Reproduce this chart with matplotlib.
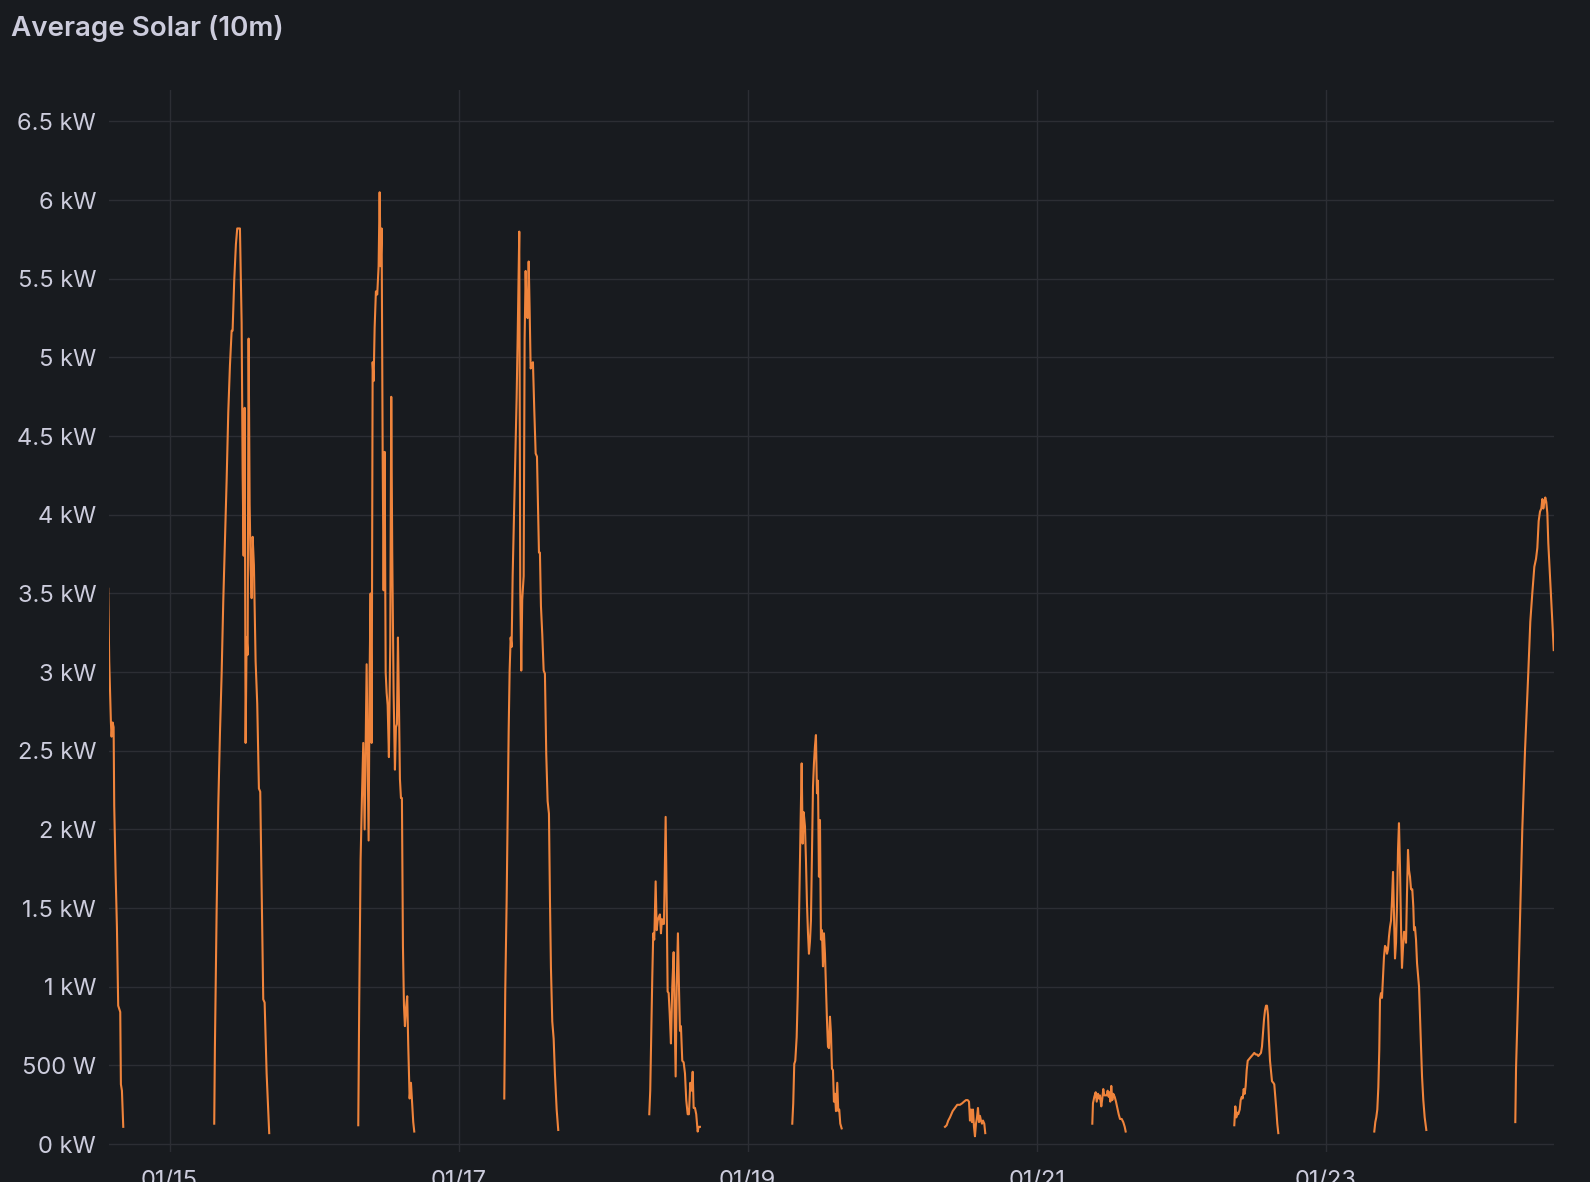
import numpy as np
import pandas as pd
import matplotlib
matplotlib.use("Agg")
from matplotlib import pyplot as plt

# Average solar power, 10 minute buckets, one segment per day (hour of day, kW)
jan14_h = [13.80, 13.97, 14.25, 14.36, 14.53, 14.70, 14.80, 15.03, 15.25, 15.46, 15.63, 15.80, 15.91, 16.08, 16.30]
jan14_kw = [3.53, 3.07, 2.68, 2.59, 2.68, 2.65, 2.15, 1.72, 1.38, 0.88, 0.86, 0.84, 0.38, 0.34, 0.11]

jan15_h = [7.41, 7.52, 7.81, 8.08, 8.36, 8.64, 8.91, 9.19, 9.47, 9.74, 10.02, 10.30, 10.46, 10.73, 11.01,
           11.23, 11.68, 11.96, 12.13, 12.29, 12.46, 12.62, 12.79, 12.96, 13.12, 13.29, 13.45, 13.62, 13.79,
           14.00, 14.28, 14.55, 14.83, 15.05, 15.28, 15.55, 15.78, 16.11, 16.54]
jan15_kw = [0.13, 0.61, 1.49, 2.15, 2.61, 2.99, 3.45, 3.84, 4.22, 4.65, 4.95, 5.17, 5.17, 5.49, 5.72,
            5.82, 5.82, 5.22, 4.26, 3.74, 4.68, 2.55, 3.22, 3.11, 5.12, 4.07, 3.68, 3.47, 3.86,
            3.68, 3.07, 2.80, 2.26, 2.24, 1.65, 0.92, 0.90, 0.45, 0.07]

jan16_h = [7.33, 7.49, 7.72, 7.94, 8.16, 8.39, 8.55, 8.72, 8.89, 9.05, 9.22, 9.38, 9.55, 9.72, 9.88,
           10.05, 10.26, 10.48, 10.71, 10.88, 11.05, 11.21, 11.38, 11.54, 11.71, 11.88, 12.04, 12.21,
           12.42, 12.64, 12.81, 12.97, 13.20, 13.42, 13.59, 13.75, 13.92, 14.09, 14.25, 14.42, 14.58,
           14.75, 14.92, 15.08, 15.25, 15.46, 15.63, 15.86, 16.08, 16.24, 16.46, 16.63]
jan16_kw = [0.12, 0.90, 1.81, 2.20, 2.55, 2.00, 2.51, 3.05, 2.48, 1.93, 3.00, 3.50, 2.55, 4.97, 4.85,
            5.19, 5.42, 5.40, 5.58, 6.05, 5.58, 5.82, 4.40, 3.52, 4.40, 3.00, 2.87, 2.79,
            2.46, 3.18, 4.75, 3.77, 2.87, 2.38, 2.65, 2.67, 3.22, 2.79, 2.32, 2.20, 2.20,
            1.26, 0.88, 0.75, 0.86, 0.94, 0.63, 0.29, 0.39, 0.28, 0.14, 0.08]

jan17_h = [7.58, 7.74, 7.97, 8.14, 8.31, 8.47, 8.64, 8.80, 8.97, 9.19, 9.40, 9.63, 9.80, 10.07, 10.23,
           10.40, 10.56, 10.80, 10.96, 11.13, 11.29, 11.46, 11.63, 11.79, 11.96, 12.12, 12.34, 12.56,
           12.79, 13.01, 13.17, 13.34, 13.50, 13.67, 13.89, 14.12, 14.33, 14.55, 14.78, 15.00, 15.17,
           15.33, 15.55, 15.78, 16.00, 16.28, 16.54]
jan17_kw = [0.29, 0.97, 1.54, 2.10, 2.63, 3.01, 3.22, 3.16, 3.61, 3.99, 4.37, 4.74, 5.12, 5.80, 3.54,
            3.01, 3.46, 3.61, 5.12, 5.55, 5.27, 5.25, 5.61, 5.31, 4.93, 4.95, 4.97, 4.67,
            4.39, 4.37, 4.06, 3.76, 3.76, 3.42, 3.24, 3.01, 2.99, 2.48, 2.18, 2.10, 1.54,
            1.12, 0.78, 0.67, 0.44, 0.22, 0.09]

jan18_h = [7.66, 7.82, 7.99, 8.16, 8.32, 8.49, 8.72, 8.89, 9.05, 9.22, 9.43, 9.60, 9.77, 9.93, 10.10,
           10.38, 10.55, 10.71, 10.88, 11.05, 11.26, 11.48, 11.71, 11.88, 12.04, 12.21, 12.42, 12.59,
           12.76, 12.92, 13.14, 13.37, 13.59, 13.80, 14.04, 14.25, 14.47, 14.70, 14.87, 15.03, 15.25,
           15.46, 15.70, 15.86, 16.08]
jan18_kw = [0.19, 0.34, 0.70, 1.06, 1.34, 1.30, 1.67, 1.36, 1.42, 1.44, 1.46, 1.34, 1.43, 1.40, 1.40,
            2.08, 1.55, 0.97, 0.96, 0.83, 0.64, 1.00, 1.22, 0.83, 0.43, 1.00, 1.34, 1.00,
            0.72, 0.75, 0.53, 0.52, 0.45, 0.28, 0.19, 0.19, 0.39, 0.34, 0.46, 0.23, 0.23,
            0.19, 0.08, 0.11, 0.11]

jan19_h = [7.41, 7.57, 7.74, 7.91, 8.14, 8.31, 8.47, 8.64, 8.80, 8.97, 9.14, 9.30, 9.52, 9.68, 9.85,
           10.02, 10.18, 10.35, 10.51, 10.68, 10.85, 11.01, 11.18, 11.34, 11.51, 11.68, 11.84, 12.01,
           12.17, 12.34, 12.51, 12.67, 12.84, 13.01, 13.17, 13.34, 13.50, 13.67, 13.84, 14.00, 14.17,
           14.33, 14.50, 14.67, 14.88, 15.05, 15.21, 15.38, 15.61]
jan19_kw = [0.13, 0.26, 0.51, 0.53, 0.68, 0.94, 1.32, 1.74, 2.06, 2.42, 1.91, 2.11, 2.02, 1.81, 1.53,
            1.34, 1.21, 1.29, 1.42, 1.85, 2.27, 2.42, 2.53, 2.60, 2.23, 2.31, 1.70, 2.06,
            1.30, 1.36, 1.13, 1.34, 1.21, 1.00, 0.79, 0.62, 0.61, 0.81, 0.70, 0.48, 0.47,
            0.27, 0.32, 0.21, 0.39, 0.21, 0.22, 0.13, 0.10]

jan20_h = [8.77, 9.05, 9.32, 9.60, 10.05, 10.43, 10.81, 11.26, 11.64, 11.93, 12.26, 12.54, 12.76, 12.92,
           13.09, 13.25, 13.42, 13.59, 13.75, 13.92, 14.09, 14.25, 14.42, 14.58, 14.75, 14.92, 15.08,
           15.30, 15.46]
jan20_kw = [0.11, 0.12, 0.15, 0.17, 0.21, 0.23, 0.25, 0.25, 0.26, 0.27, 0.28, 0.28, 0.27, 0.15,
            0.22, 0.14, 0.22, 0.11, 0.05, 0.13, 0.17, 0.23, 0.14, 0.18, 0.15, 0.13, 0.15,
            0.13, 0.07]

jan21_h = [9.24, 9.35, 9.57, 9.80, 9.97, 10.18, 10.35, 10.51, 10.73, 10.90, 11.06, 11.23, 11.39, 11.63,
           11.79, 11.96, 12.13, 12.23, 12.39, 12.56, 12.72, 12.96, 13.17, 13.39, 13.62, 13.84, 14.12,
           14.38, 14.62, 14.78]
jan21_kw = [0.13, 0.26, 0.30, 0.33, 0.27, 0.32, 0.29, 0.31, 0.24, 0.29, 0.35, 0.31, 0.31, 0.31,
            0.34, 0.30, 0.33, 0.27, 0.37, 0.28, 0.32, 0.30, 0.27, 0.23, 0.19, 0.16, 0.16,
            0.14, 0.11, 0.08]

jan22_h = [8.82, 8.99, 9.15, 9.32, 9.48, 9.72, 9.88, 10.05, 10.21, 10.38, 10.55, 10.71, 10.88, 11.05,
           11.26, 11.48, 11.71, 11.93, 12.14, 12.37, 12.59, 12.81, 13.04, 13.25, 13.42, 13.59, 13.75,
           13.92, 14.09, 14.25, 14.42, 14.58, 14.75, 14.92, 15.08, 15.30, 15.46, 15.63, 15.80, 15.96,
           16.13]
jan22_kw = [0.12, 0.24, 0.17, 0.20, 0.19, 0.22, 0.28, 0.30, 0.29, 0.35, 0.32, 0.37, 0.47, 0.53,
            0.54, 0.55, 0.56, 0.57, 0.58, 0.57, 0.57, 0.56, 0.57, 0.58, 0.62, 0.71, 0.79,
            0.85, 0.88, 0.88, 0.82, 0.66, 0.53, 0.46, 0.40, 0.39, 0.38, 0.30, 0.22, 0.13,
            0.07]

jan23_h = [8.07, 8.24, 8.40, 8.57, 8.74, 8.90, 9.02, 9.19, 9.35, 9.52, 9.68, 9.85, 10.02, 10.18, 10.35,
           10.51, 10.68, 10.85, 11.01, 11.18, 11.34, 11.51, 11.68, 11.84, 12.01, 12.17, 12.34, 12.51,
           12.67, 12.84, 13.01, 13.17, 13.34, 13.50, 13.67, 13.84, 14.00, 14.17, 14.38, 14.55, 14.67,
           14.83, 15.00, 15.17, 15.33, 15.50, 15.66, 15.83, 16.00, 16.21, 16.44, 16.71]
jan23_kw = [0.08, 0.14, 0.17, 0.22, 0.36, 0.60, 0.92, 0.96, 0.93, 1.06, 1.19, 1.26, 1.25, 1.21, 1.24,
            1.32, 1.38, 1.42, 1.55, 1.73, 1.47, 1.18, 1.28, 1.51, 1.87, 2.04, 1.76, 1.38,
            1.12, 1.25, 1.35, 1.34, 1.28, 1.59, 1.87, 1.74, 1.70, 1.62, 1.62, 1.51, 1.36,
            1.38, 1.30, 1.15, 1.08, 1.00, 0.81, 0.62, 0.43, 0.28, 0.17, 0.09]

jan24_h = [7.49, 7.61, 7.99, 8.32, 8.65, 9.10, 9.65, 9.98, 10.31, 10.65, 10.93, 11.15, 11.37, 11.59,
           11.81, 11.98, 12.14, 12.31, 12.47, 12.64, 12.81, 12.97, 13.20, 13.42, 13.64, 13.87]
jan24_kw = [0.14, 0.48, 1.00, 1.50, 2.00, 2.50, 3.00, 3.32, 3.50, 3.67, 3.72, 3.79, 3.96, 4.02,
            4.04, 4.10, 4.04, 4.08, 4.11, 4.08, 4.01, 3.82, 3.65, 3.49, 3.32, 3.14]

days = ["2024-01-14", "2024-01-15", "2024-01-16", "2024-01-17", "2024-01-18", "2024-01-19",
        "2024-01-20", "2024-01-21", "2024-01-22", "2024-01-23", "2024-01-24"]
day_hours = [jan14_h, jan15_h, jan16_h, jan17_h, jan18_h, jan19_h, jan20_h, jan21_h, jan22_h, jan23_h, jan24_h]
day_kw = [jan14_kw, jan15_kw, jan16_kw, jan17_kw, jan18_kw, jan19_kw, jan20_kw, jan21_kw, jan22_kw, jan23_kw, jan24_kw]

y_ticks = [0, 0.5, 1, 1.5, 2, 2.5, 3, 3.5, 4, 4.5, 5, 5.5, 6, 6.5]
y_labels = ["0 kW", "500 W", "1 kW", "1.5 kW", "2 kW", "2.5 kW", "3 kW", "3.5 kW", "4 kW",
            "4.5 kW", "5 kW", "5.5 kW", "6 kW", "6.5 kW"]
x_ticks = ["2024-01-15", "2024-01-17", "2024-01-19", "2024-01-21", "2024-01-23"]
x_labels = ["01/15", "01/17", "01/19", "01/21", "01/23"]

BG = "#181b1f"
TXT = "#ccccdc"
GRID = "#2c2e34"
LINE = "#EF843C"
FONT = ["Inter", "DejaVu Sans"]

# build one series, nights are gaps (NaN)
times, values = [], []
for d, hh, kw in zip(days, day_hours, day_kw):
    base = pd.Timestamp(d)
    for h, v in zip(hh, kw):
        times.append((base + pd.Timedelta(hours=h)).to_pydatetime())
        values.append(v)
    times.append((base + pd.Timedelta(hours=20)).to_pydatetime())
    values.append(np.nan)

fig = plt.figure(figsize=(15.9, 11.82), dpi=100, facecolor=BG)
ax = fig.add_axes([108.7 / 1590, 1 - 1152 / 1182, (1554 - 108.7) / 1590, (1152 - 90) / 1182])
ax.set_facecolor(BG)

ax.plot(times, values, color=LINE, lw=1.5, solid_joinstyle="round")

ax.set_xlim(pd.Timestamp("2024-01-14 13:53").to_pydatetime(), pd.Timestamp("2024-01-24 13:55").to_pydatetime())
ax.set_ylim(-0.05, 6.70)

ax.set_yticks(y_ticks)
ax.set_yticklabels(y_labels)
ax.set_xticks([pd.Timestamp(t).to_pydatetime() for t in x_ticks])
ax.set_xticklabels(x_labels)

for lab in ax.get_yticklabels() + ax.get_xticklabels():
    lab.set_family(FONT)
    lab.set_fontsize(17)
    lab.set_color(TXT)

ax.tick_params(axis="y", length=0, pad=9)
ax.tick_params(axis="x", length=0, pad=13)
ax.grid(True, color=GRID, lw=1)
ax.set_axisbelow(True)
for s in ax.spines.values():
    s.set_visible(False)

fig.text(11 / 1590, 1 - 36 / 1182, "Average Solar (10m)", family=FONT, fontsize=20,
         fontweight="semibold", color=TXT, va="baseline", ha="left")

fig.savefig("out.png", dpi=100, facecolor=BG)
